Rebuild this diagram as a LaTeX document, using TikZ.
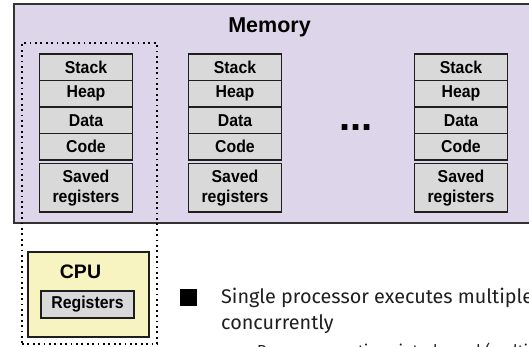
\documentclass[tikz,border=0pt]{standalone}
\usepackage{fontspec}
\setmainfont{Fira Sans}
\newfontfamily\labelfont{Liberation Sans}
\newfontfamily\seglabelfont{Liberation Sans}[FakeStretch=0.92]
\usepackage{tikz}
\usetikzlibrary{positioning}

\definecolor{memlav}{RGB}{221,214,234}
\definecolor{seggray}{RGB}{217,217,217}
\definecolor{cpuyellow}{RGB}{247,244,193}
\definecolor{inkdark}{RGB}{30,30,30}

\begin{document}
\begin{tikzpicture}[
  x=1pt, y=-1pt,
  memory/.style={rectangle, draw=black!80, line width=1.6pt, fill=memlav, minimum width=531pt, minimum height=219pt, inner sep=0pt, outer sep=0pt},
  seg/.style={rectangle, draw=inkdark, line width=1.5pt, fill=seggray, minimum width=93pt, minimum height=26.5pt, inner sep=0pt, outer sep=0pt, font=\seglabelfont\bfseries\fontsize{17.2}{19}\selectfont},
  savedseg/.style={seg, minimum height=48.5pt, align=center, font=\seglabelfont\bfseries\fontsize{17.2}{20}\selectfont},
  dotframe/.style={rectangle, draw=black, line width=1.8pt, dash pattern=on 1.8pt off 3.6pt, minimum width=135pt, minimum height=301pt, inner sep=0pt, outer sep=0pt},
  cpubox/.style={rectangle, draw=inkdark, line width=1.6pt, fill=cpuyellow, minimum width=121pt, minimum height=85pt, inner sep=0pt, outer sep=0pt},
  bigbold/.style={anchor=base, font=\labelfont\bfseries\fontsize{19.5}{21}\selectfont, inner sep=0pt},
  bullet/.style={rectangle, fill=black, minimum size=16.5pt, inner sep=0pt},
  bodytext/.style={anchor=base west, inner sep=0pt, text=black!88, font=\fontsize{19.8}{23}\selectfont},
  subtext/.style={bodytext, font=\fontsize{16}{19}\selectfont},
]
\useasboundingbox (0,0) rectangle (529,347);
\clip (0,0) rectangle (529,347);

% shared memory
\node[memory] (mem) at (279.5,113.5) {};
\node[bigbold, font=\labelfont\bfseries\fontsize{21.5}{23}\selectfont] (memlbl) at (269.5,32.5) {Memory};

% process 1 (running one)
\node[dotframe] (proc) at (89.5,193.5) {};
\node[seg] (st1) at (86,67.25) {Stack};
\node[seg, below=0pt of st1] (hp1) {Heap};
\node[seg, below=0pt of hp1] (dt1) {Data};
\node[seg, below=0pt of dt1] (cd1) {Code};
\node[savedseg, below=3.5pt of cd1] (sv1) {Saved\\registers};

% process 2
\node[seg] (st2) at (235,67.25) {Stack};
\node[seg, below=0pt of st2] (hp2) {Heap};
\node[seg, below=0pt of hp2] (dt2) {Data};
\node[seg, below=0pt of dt2] (cd2) {Code};
\node[savedseg, below=3.5pt of cd2] (sv2) {Saved\\registers};

\node[anchor=base, inner sep=0pt, font=\labelfont\bfseries\fontsize{40}{40}\selectfont] (dots) at (356,130.5) {...};

% process n
\node[seg] (st3) at (461,67.25) {Stack};
\node[seg, below=0pt of st3] (hp3) {Heap};
\node[seg, below=0pt of hp3] (dt3) {Data};
\node[seg, below=0pt of dt3] (cd3) {Code};
\node[savedseg, below=3.5pt of cd3] (sv3) {Saved\\registers};

% the one processor
\node[cpubox] (cpu) at (88.5,294.5) {};
\node[bigbold] (cpulbl) at (80.5,278) {CPU};
\node[seg, minimum height=27pt] (regs) at (87.5,304.5) {Registers};

% bullet text
\node[bullet] (b1) at (188.5,297.5) {};
\node[bodytext] (t1) at (221,303) {Single processor executes multiple processes};
\node[bodytext] (t2) at (221,329) {concurrently};
\node[subtext] (t3) at (257,356) {Process executions interleaved (multitasking)};
\end{tikzpicture}
\end{document}
